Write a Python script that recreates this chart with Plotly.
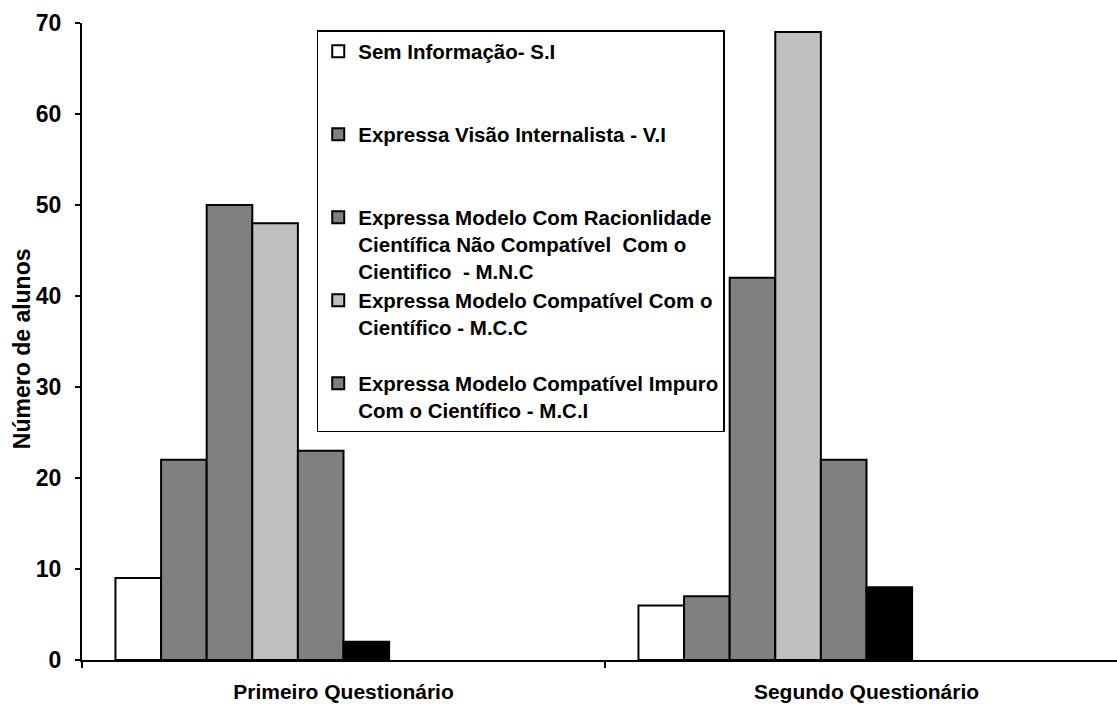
import plotly.graph_objects as go

# Categories on the x axis
questionarios = ["Primeiro Questionário", "Segundo Questionário"]

# Number of students per category of answer
sem_informacao = [9, 6]
visao_internalista = [22, 7]
modelo_nao_compativel = [50, 42]
modelo_compativel = [48, 69]
modelo_impuro = [23, 22]
outros = [2, 8]

series_names = [
    "Sem Informação- S.I",
    "Expressa Visão Internalista - V.I",
    "Expressa Modelo Com Racionlidade<br>Científica Não Compatível  Com o<br>Cientifico  - M.N.C",
    "Expressa Modelo Compatível Com o<br>Científico - M.C.C",
    "Expressa Modelo Compatível Impuro<br>Com o Científico - M.C.I",
    "Outros",
]
series_values = [
    sem_informacao,
    visao_internalista,
    modelo_nao_compativel,
    modelo_compativel,
    modelo_impuro,
    outros,
]

y_title = "Número de alunos"

# Styling
fills = ["#FFFFFF", "#808080", "#808080", "#C0C0C0", "#808080", "#000000"]
legend_pad_lines = [2, 2, 0, 1, 0, 0]
show_in_legend = [True, True, True, True, True, False]
bar_width = 0.0872
first_offset = -0.436
FONT = "Liberation Sans, Arial, sans-serif"

fig = go.Figure()
for i, (name, vals) in enumerate(zip(series_names, series_values)):
    fig.add_trace(go.Bar(
        x=questionarios,
        y=vals,
        name=name + "<br> " * legend_pad_lines[i],
        width=bar_width,
        offset=first_offset + i * bar_width,
        marker=dict(color=fills[i], line=dict(color="#000000", width=2)),
        showlegend=show_in_legend[i],
    ))

fig.update_layout(
    width=1117,
    height=704,
    margin=dict(l=82, r=0, t=23, b=44),
    paper_bgcolor="#FFFFFF",
    plot_bgcolor="#FFFFFF",
    font=dict(family=FONT, size=21, color="#000000", weight="bold"),
    barmode="overlay",
    legend=dict(
        x=0.2268, y=0.989, xanchor="left", yanchor="top",
        bgcolor="#FFFFFF", bordercolor="#000000", borderwidth=1.5,
        font=dict(family=FONT, size=20.5, color="#000000", weight="bold"),
        valign="top",
        traceorder="normal",
    ),
    xaxis=dict(
        type="category",
        range=[-0.5, 1.479],
        tickson="boundaries",
        ticks="outside", ticklen=6, tickwidth=2, tickcolor="#000000",
        showline=True, linecolor="#000000", linewidth=2,
        showgrid=False, zeroline=False,
        ticklabelstandoff=12,
        tickfont=dict(family=FONT, size=21, weight="bold"),
    ),
    xaxis2=dict(
        overlaying="x", anchor="y",
        range=[-0.5, 1.479],
        tickvals=[-0.5, 0.5, 1.5],
        ticks="inside", ticklen=6, tickwidth=2, tickcolor="#000000",
        showticklabels=False, showline=False, showgrid=False, zeroline=False,
    ),
    yaxis=dict(
        range=[0, 70], dtick=10,
        ticks="outside", ticklen=5, tickwidth=2, tickcolor="#000000",
        showline=True, linecolor="#000000", linewidth=2,
        showgrid=False, zeroline=False,
        ticklabelstandoff=9,
        tickfont=dict(family=FONT, size=23, weight="bold"),
    ),
    yaxis2=dict(
        overlaying="y", anchor="x", side="left",
        range=[0, 70], dtick=10,
        ticks="inside", ticklen=5, tickwidth=2, tickcolor="#000000",
        showticklabels=False, showline=False, showgrid=False, zeroline=False,
    ),
    annotations=[dict(
        text=y_title, textangle=-90,
        xref="paper", yref="paper", x=0, y=0.488,
        xanchor="center", yanchor="middle", xshift=-60,
        showarrow=False,
        font=dict(family=FONT, size=23, weight="bold"),
    )],
)

fig.write_html("out.html")
